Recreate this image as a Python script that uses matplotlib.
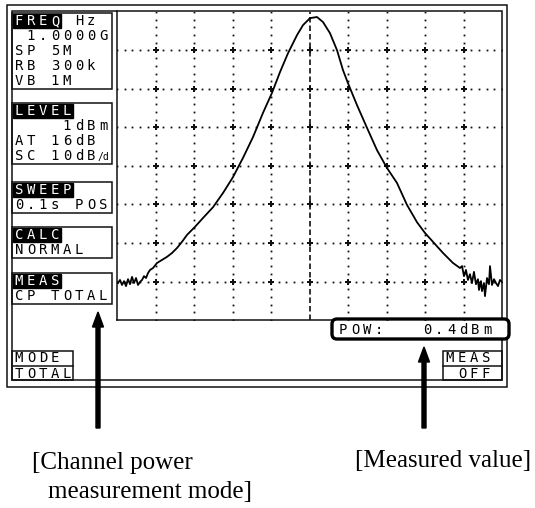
import numpy as np
import matplotlib.pyplot as plt
from matplotlib.patches import Rectangle, FancyBboxPatch, FancyArrow

# spectrum analyser settings shown on screen
center_mhz = 1000.0
span_mhz = 5.0
ref_dbm = 1.0
db_per_div = 10.0

# trace (offset from centre in MHz, level in dBm)
offset_mhz = [-2.487, -2.461, -2.435, -2.409, -2.383, -2.357, -2.331, -2.305,
              -2.279, -2.253, -2.227, -2.201, -2.175, -2.149, -2.123, -2.097,
              -2.071, -2.032, -1.981, -1.916, -1.851, -1.786, -1.721, -1.656,
              -1.591, -1.487, -1.383, -1.253, -1.123, -0.994, -0.864, -0.734,
              -0.604, -0.487, -0.383, -0.279, -0.162, -0.084, 0.006, 0.097,
              0.175, 0.266, 0.357, 0.435, 0.500, 0.617, 0.747, 0.877,
              1.006, 1.136, 1.266, 1.396, 1.500, 1.604, 1.734, 1.864,
              1.955, 1.981, 2.006, 2.032, 2.058, 2.084, 2.110, 2.136,
              2.162, 2.188, 2.201, 2.227, 2.240, 2.266, 2.279, 2.305,
              2.331, 2.344, 2.370, 2.396, 2.422, 2.448, 2.474, 2.500]
level_dbm = [-69.4, -68.6, -69.9, -68.9, -70.2, -68.4, -69.7, -67.8,
             -69.4, -68.1, -69.9, -69.1, -68.6, -67.6, -68.1, -66.8,
             -66.0, -65.5, -64.2, -63.4, -62.6, -61.6, -60.3, -58.7,
             -56.9, -54.8, -52.5, -49.7, -46.0, -41.9, -36.9, -31.5,
             -25.2, -20.0, -14.6, -9.7, -5.0, -2.4, -0.6, -0.3,
             -1.6, -4.5, -8.9, -14.1, -17.5, -23.2, -29.1, -34.9,
             -39.5, -43.4, -49.1, -53.6, -56.4, -58.7, -61.6, -64.2,
             -65.5, -65.0, -67.6, -66.0, -68.6, -67.1, -69.4, -66.5,
             -69.7, -68.4, -71.2, -68.9, -71.5, -69.4, -72.8, -68.1,
             -69.7, -65.0, -69.9, -68.4, -69.4, -70.2, -68.6, -69.1]

# side panels: (top, rows, highlighted chars in first row)
panels = [
    (13, ["FREQ Hz", " 1.0000G", "SP 5M", "RB 300k", "VB 1M"], 4),
    (103, ["LEVEL", "    1dBm", "AT 16dB", "SC 10dB"], 5),
    (182, ["SWEEP", "0.1s POS"], 5),
    (227, ["CALC", "NORMAL"], 4),
    (273, ["MEAS", "CP TOTAL"], 4),
]
mode_rows = ["MODE", "TOTAL"]
meas_rows = ["MEAS", " OFF"]
pow_text = "POW:   0.4dBm"

fig = plt.figure(figsize=(5.35, 5.08), dpi=100)
cv = fig.add_axes([0, 0, 1, 1])
cv.set_xlim(0, 535)
cv.set_ylim(508, 0)
cv.axis('off')

INK = '#111111'
LW = 1.1
MONO = 'DejaVu Sans Mono'


def box(x0, y0, x1, y1, lw=LW):
    cv.add_patch(Rectangle((x0, y0), x1 - x0, y1 - y0, fill=False, lw=lw, ec=INK, zorder=3))


def mono(x0, base, s, inv=0, size=10, z=5):
    for i, ch in enumerate(s):
        cv.text(x0 + 6 + 12 * i, base, ch, ha='center', va='baseline', family=MONO,
                size=size, color='white' if i < inv else 'black', zorder=z)


# screen frames
box(7, 5, 507, 387)
box(12, 11, 502, 380)
cv.plot([117, 117], [11, 320], color=INK, lw=LW, zorder=3)
cv.plot([117, 502], [320, 320], color=INK, lw=LW, zorder=3)

# left panels
for top, rows, inv in panels:
    box(12, top, 112, top + 15 * len(rows) + 1)
    cv.add_patch(Rectangle((13, top + 1), inv * 12, 13.5, color='black', zorder=4))
    for k, r in enumerate(rows):
        mono(13, top + 12 + 15 * k, r, inv if k == 0 else 0)
# "/div" glyph after SC 10dB
cv.text(13 + 6 + 12 * 7, 103 + 12 + 45, "/d", ha='center', va='baseline',
        family=MONO, size=7, zorder=5)

# soft key boxes
box(12, 351, 73, 380)
cv.plot([12, 73], [365.5, 365.5], color=INK, lw=LW)
mono(13, 362.5, mode_rows[0])
mono(13, 377.5, mode_rows[1])
box(443, 351, 502, 380)
cv.plot([443, 502], [365.5, 365.5], color=INK, lw=LW)
mono(444, 362.5, meas_rows[0])
mono(444, 377.5, meas_rows[1])

# measured value box
cv.add_patch(FancyBboxPatch((332, 319), 177, 20, boxstyle='round,pad=0,rounding_size=5',
                            lw=2.4, ec='black', fc='white', zorder=6))
mono(337, 334, pow_text, z=7)

# arrows
cv.add_patch(FancyArrow(98, 428, 0, -116, width=4, head_width=11, head_length=15,
                        length_includes_head=True, color='black', zorder=6))
cv.add_patch(FancyArrow(424, 428, 0, -81, width=4, head_width=11, head_length=15,
                        length_includes_head=True, color='black', zorder=6))

cv.text(32, 469, "[Channel power", family='Liberation Serif', size=18, va='baseline')
cv.text(48, 498, "measurement mode]", family='Liberation Serif', size=18, va='baseline')
cv.text(355, 467, "[Measured value]", family='Liberation Serif', size=18, va='baseline')

# trace area
ax = fig.add_axes([117 / 535, 1 - 320 / 508, 385 / 535, 308 / 508])
ax.patch.set_alpha(0)
half = span_mhz / 2
bottom = ref_dbm - 8 * db_per_div
ax.set_xlim(-half, half)
ax.set_ylim(bottom, ref_dbm)
ax.axis('off')

gx = np.linspace(-half, half, 11)[1:-1]
gy = np.linspace(bottom, ref_dbm, 9)[1:-1]
sx = np.linspace(-half, half, 51)
sy = np.linspace(bottom, ref_dbm, 41)
for y in gy:
    ax.plot(sx, np.full_like(sx, y), ls='none', marker='s', ms=1.3, mew=0, color=INK)
for x in gx:
    if abs(x) < 1e-9:
        ax.plot([0, 0], [bottom, ref_dbm], ls=(0, (3.3, 1.8)), lw=1.2, color=INK)
    else:
        ax.plot(np.full_like(sy, x), sy, ls='none', marker='s', ms=1.3, mew=0, color=INK)
X, Y = np.meshgrid(gx, gy)
ax.plot(X.ravel(), Y.ravel(), ls='none', marker='P', ms=3.8, color=INK, mew=0)

ax.plot(offset_mhz, level_dbm, color='black', lw=1.3)

fig.savefig('out.png', dpi=100)
